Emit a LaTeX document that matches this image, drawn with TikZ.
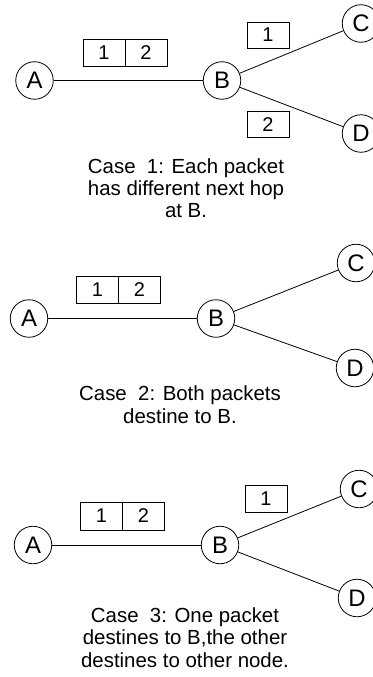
\documentclass[tikz,border=0pt]{standalone}
\usepackage{fontspec}
\setmainfont{Liberation Sans}
\begin{document}
\begin{tikzpicture}[x=1bp,y=-1bp,
  router/.style={draw,circle,line width=0.8bp,minimum size=37.5bp,inner sep=0pt,font=\fontsize{24}{24}\selectfont},
  packet/.style={draw,rectangle,line width=0.8bp,minimum width=42bp,minimum height=27bp,inner sep=0pt,font=\fontsize{20}{20}\selectfont},
  link/.style={line width=0.8bp},
  caption/.style={anchor=base,inner sep=0pt,font=\fontsize{20.5}{22}\selectfont}]
\useasboundingbox (0,0) rectangle (372,677);
% Case 1
\node[router] (A1) at (34.5,80.5) {A};
\node[router] (B1) at (222,80.5) {B};
\node[router] (C1) at (361,23.5) {C};
\node[router] (D1) at (361,133.5) {D};
\draw[link] (A1) -- (B1);
\draw[link] (B1) -- (C1);
\draw[link] (B1) -- (D1);
\node[packet] (p11) at (104,52.5) {1};
\node[packet] (p12) at (146,52.5) {2};
\node[packet,minimum height=26bp] (q11) at (268,35) {1};
\node[packet,minimum height=26bp] (q12) at (268,124.5) {2};
\node[caption] (t11) at (186,173) {Case\ \ 1: Each packet};
\node[caption] (t12) at (186,195.5) {has different next hop};
\node[caption] (t13) at (186,217.5) {at B.};
% Case 2
\node[router] (A2) at (29,318.5) {A};
\node[router] (B2) at (216,318.5) {B};
\node[router] (C2) at (356,263) {C};
\node[router] (D2) at (355,368) {D};
\draw[link] (A2) -- (B2);
\draw[link] (B2) -- (C2);
\draw[link] (B2) -- (D2);
\node[packet] (p21) at (97.5,290) {1};
\node[packet] (p22) at (139.5,290) {2};
\node[caption] (t21) at (180,400) {Case\ \ 2: Both packets};
\node[caption] (t22) at (180,423) {destine to B.};
% Case 3
\node[router] (A3) at (33,545) {A};
\node[router] (B3) at (220,545) {B};
\node[router] (C3) at (359,489) {C};
\node[router] (D3) at (357,598) {D};
\draw[link] (A3) -- (B3);
\draw[link] (B3) -- (C3);
\draw[link] (B3) -- (D3);
\node[packet,minimum height=28bp] (p31) at (101.5,516) {1};
\node[packet,minimum height=28bp] (p32) at (143.5,516) {2};
\node[packet] (q31) at (266,498.5) {1};
\node[caption] (t31) at (185,622) {Case\ \ 3: One packet};
\node[caption] (t32) at (185,644.5) {destines to B,the other};
\node[caption] (t33) at (185,667) {destines to other node.};
\end{tikzpicture}
\end{document}
